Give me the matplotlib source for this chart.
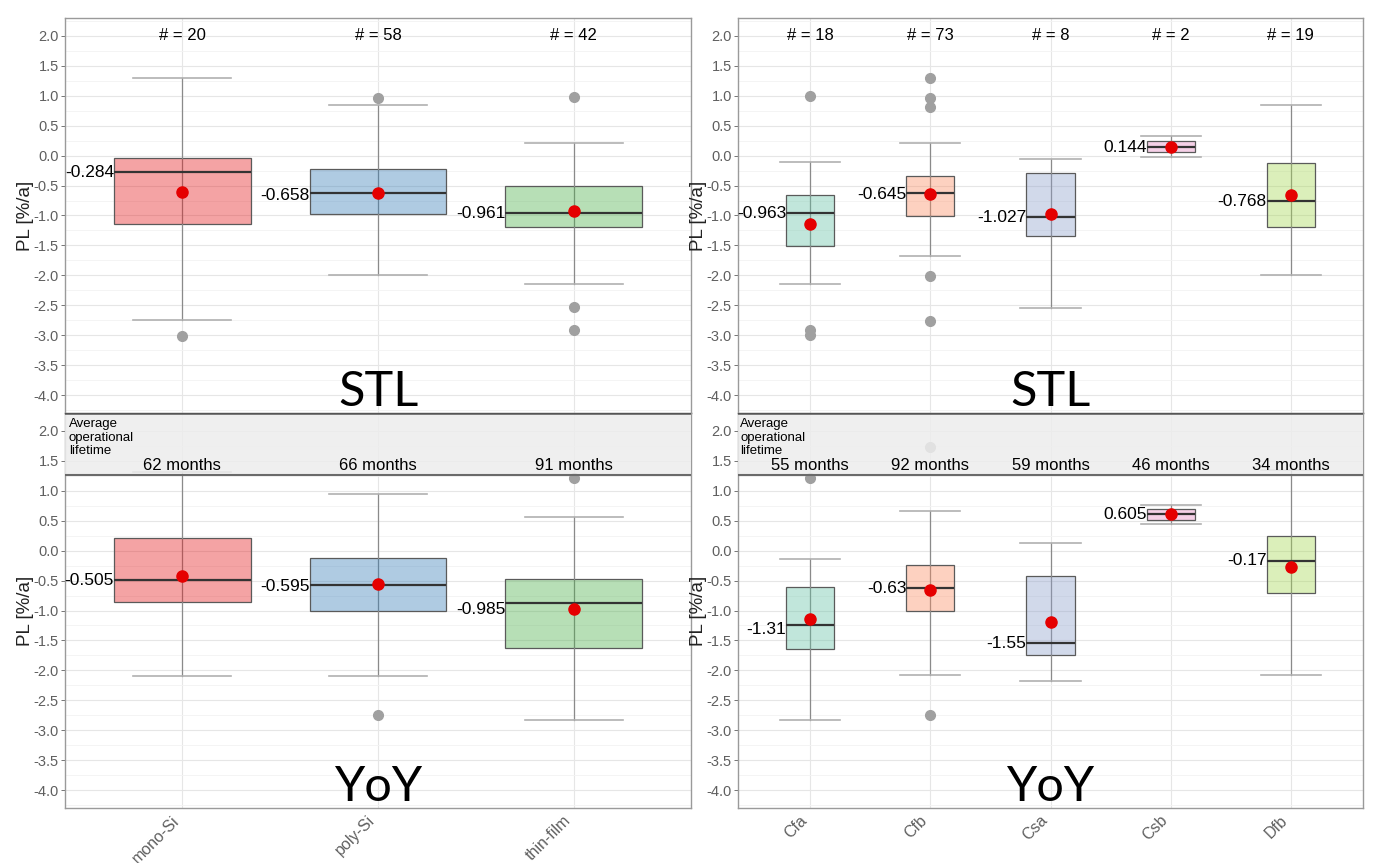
import matplotlib
matplotlib.use("Agg")
import matplotlib.pyplot as plt
import numpy as np

plt.rcParams["font.family"] = ["Liberation Sans", "DejaVu Sans"]

## Categories and counts
left_cats = ["mono-Si", "poly-Si", "thin-film"]
left_n = [20, 58, 42]
left_months = [62, 66, 91]

right_cats = ["Cfa", "Cfb", "Csa", "Csb", "Dfb"]
right_n = [18, 73, 8, 2, 19]
right_months = [55, 92, 59, 46, 34]

## Left panel, STL
l_stl_whishi = [1.30, 0.85, 0.21]
l_stl_q3 = [-0.04, -0.23, -0.51]
l_stl_med = [-0.27, -0.63, -0.95]
l_stl_q1 = [-1.15, -0.97, -1.20]
l_stl_whislo = [-2.75, -1.99, -2.14]
l_stl_mean = [-0.60, -0.62, -0.92]
l_stl_fliers = [[-3.02], [0.97], [0.98, -2.53, -2.92]]
l_stl_labels = ["-0.284", "-0.658", "-0.961"]

## Left panel, YoY
l_yoy_whishi = [1.31, 0.95, 0.57]
l_yoy_q3 = [0.21, -0.12, -0.48]
l_yoy_med = [-0.49, -0.58, -0.87]
l_yoy_q1 = [-0.85, -1.00, -1.62]
l_yoy_whislo = [-2.09, -2.09, -2.83]
l_yoy_mean = [-0.42, -0.55, -0.98]
l_yoy_fliers = [[], [-2.75], [1.22]]
l_yoy_labels = ["-0.505", "-0.595", "-0.985"]

## Right panel, STL
r_stl_whishi = [-0.11, 0.21, -0.06, 0.33, 0.85]
r_stl_q3 = [-0.65, -0.34, -0.29, 0.24, -0.13]
r_stl_med = [-0.95, -0.63, -1.02, 0.15, -0.75]
r_stl_q1 = [-1.51, -1.01, -1.35, 0.06, -1.19]
r_stl_whislo = [-2.15, -1.68, -2.54, -0.02, -2.00]
r_stl_mean = [-1.15, -0.64, -0.97, 0.15, -0.65]
r_stl_fliers = [[0.99, -2.92, -3.0], [1.30, 0.97, 0.81, -2.01, -2.76], [], [], []]
r_stl_labels = ["-0.963", "-0.645", "-1.027", "0.144", "-0.768"]

## Right panel, YoY
r_yoy_whishi = [-0.14, 0.67, 0.12, 0.76, 1.35]
r_yoy_q3 = [-0.60, -0.24, -0.43, 0.70, 0.25]
r_yoy_med = [-1.25, -0.63, -1.55, 0.61, -0.18]
r_yoy_q1 = [-1.65, -1.00, -1.74, 0.52, -0.71]
r_yoy_whislo = [-2.83, -2.08, -2.17, 0.45, -2.08]
r_yoy_mean = [-1.15, -0.65, -1.19, 0.61, -0.28]
r_yoy_fliers = [[1.22], [1.74, -2.75], [], [], []]
r_yoy_labels = ["-1.31", "-0.63", "-1.55", "0.605", "-0.17"]

set1 = ["#E41A1C", "#377EB8", "#4DAF4A"]
set2 = ["#66C2A5", "#FC8D62", "#8DA0CB", "#E78AC3", "#A6D854"]

W, H = 1378, 863
YLIM = (-4.3, 2.3)
BAND_LO = 1.27
TICK_C = "#5f5f5f"


def style_axes(ax, ncat):
    ax.set_xlim(0.4, ncat + 0.6)
    ax.set_ylim(*YLIM)
    ax.set_yticks(np.arange(-4.0, 2.01, 0.5))
    ax.set_yticks(np.arange(-4.25, 2.3, 0.5), minor=True)
    ax.yaxis.set_major_formatter(matplotlib.ticker.FormatStrFormatter("%.1f"))
    ax.set_xticks(range(1, ncat + 1))
    ax.grid(True, which="major", color="#e6e6e6", lw=0.8, zorder=0)
    ax.grid(True, which="minor", axis="y", color="#f3f3f3", lw=0.6, zorder=0)
    ax.set_axisbelow(True)
    ax.tick_params(axis="y", which="major", labelsize=10.5, colors=TICK_C,
                   length=3, width=0.6, pad=1.5)
    ax.tick_params(axis="y", which="minor", length=0)
    ax.tick_params(axis="x", length=0)
    for s in ax.spines.values():
        s.set_color("#9a9a9a")
        s.set_linewidth(1.0)
    ax.set_ylabel("PL [%/a]", fontsize=13.5, color="#222222", labelpad=0)


def draw_boxes(ax, colors, width, whishi, q3, med, q1, whislo, mean, fliers, labels):
    pos = list(range(1, len(med) + 1))
    stats = []
    for i in range(len(med)):
        stats.append(dict(med=med[i], q1=q1[i], q3=q3[i], whislo=whislo[i],
                          whishi=whishi[i], fliers=fliers[i], mean=mean[i]))
    # errorbar line runs through the translucent box
    ax.vlines(pos, q1, q3, color="#8a8a8a", lw=0.9, zorder=1.5)
    bp = ax.bxp(stats, positions=pos, widths=width, capwidths=0.5,
                patch_artist=True, showmeans=True, manage_ticks=False,
                boxprops=dict(edgecolor="#5a5a5a", linewidth=0.9),
                medianprops=dict(color="#333333", linewidth=1.6),
                whiskerprops=dict(color="#8a8a8a", linewidth=0.9),
                capprops=dict(color="#b0b0b0", linewidth=1.2),
                flierprops=dict(marker="o", markerfacecolor="#a0a0a0",
                                markeredgecolor="#a0a0a0", markersize=7),
                meanprops=dict(marker="o", markerfacecolor="#e50000",
                               markeredgecolor="#e50000", markersize=8))
    for patch, c in zip(bp["boxes"], colors):
        patch.set_facecolor(matplotlib.colors.to_rgba(c, 0.4))
    for m in bp["means"]:
        m.set_zorder(5)
    for p, lab in zip(pos, labels):
        ax.text(p - width / 2, float(lab), lab, ha="right", va="center",
                fontsize=12.5, color="black", zorder=6)


def draw_panel(x0, w, cats, colors, width, n, months, stl, yoy):
    ncat = len(cats)
    ax_top = fig.add_axes([x0 / W, (H - 413) / H, w / W, 395 / H])
    ax_bot = fig.add_axes([x0 / W, (H - 808) / H, w / W, 395 / H])
    for ax in (ax_top, ax_bot):
        style_axes(ax, ncat)
    ax_top.set_xticklabels([])
    ax_bot.set_xticklabels(cats, rotation=45, ha="right", fontsize=11.5, color=TICK_C)

    draw_boxes(ax_top, colors, width, *stl)
    draw_boxes(ax_bot, colors, width, *yoy)

    for i in range(ncat):
        ax_top.text(i + 1, 2.0, "# = %d" % n[i], ha="center", va="center", fontsize=12)
    mid = (ncat + 1) / 2
    ax_top.text(mid, -3.95, "STL", ha="center", va="center", fontsize=35, family="Lato")
    ax_bot.text(mid, -3.95, "YoY", ha="center", va="center", fontsize=35, family="Lato")

    # grey band with the operational lifetime
    ax_bot.axhspan(BAND_LO, YLIM[1], color="#ededed", alpha=0.85, zorder=7, lw=0)
    ax_bot.axhline(BAND_LO, color="#6a6a6a", lw=1.5, zorder=8)
    ax_bot.axhline(YLIM[1] - 0.005, color="#555555", lw=1.8, zorder=8)
    ax_bot.text(0.42, 2.22, "Average\noperational\nlifetime", ha="left", va="top",
                fontsize=9.5, linespacing=1.2, zorder=9)
    for i in range(ncat):
        ax_bot.text(i + 1, 1.42, "%d months" % months[i], ha="center", va="center",
                    fontsize=12, zorder=9)


fig = plt.figure(figsize=(W / 100, H / 100), dpi=100)

draw_panel(65, 626, left_cats, set1, 0.7, left_n, left_months,
           (l_stl_whishi, l_stl_q3, l_stl_med, l_stl_q1, l_stl_whislo, l_stl_mean, l_stl_fliers, l_stl_labels),
           (l_yoy_whishi, l_yoy_q3, l_yoy_med, l_yoy_q1, l_yoy_whislo, l_yoy_mean, l_yoy_fliers, l_yoy_labels))

draw_panel(738, 625, right_cats, set2, 0.4, right_n, right_months,
           (r_stl_whishi, r_stl_q3, r_stl_med, r_stl_q1, r_stl_whislo, r_stl_mean, r_stl_fliers, r_stl_labels),
           (r_yoy_whishi, r_yoy_q3, r_yoy_med, r_yoy_q1, r_yoy_whislo, r_yoy_mean, r_yoy_fliers, r_yoy_labels))

fig.savefig("out.png", dpi=100)
